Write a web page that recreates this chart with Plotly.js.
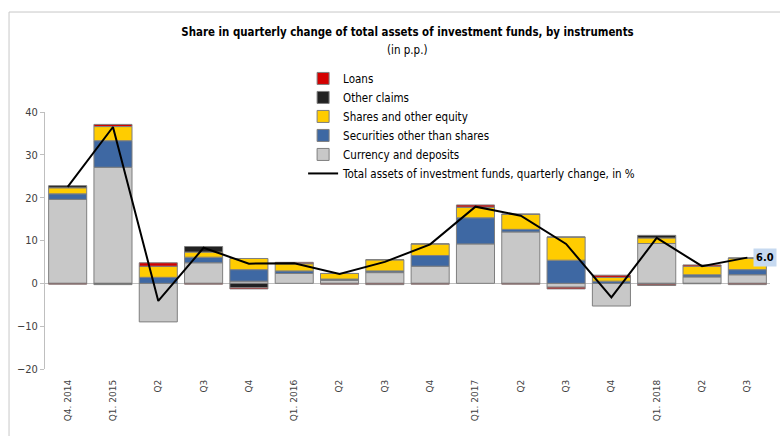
<!DOCTYPE html>
<html>
<head>
<meta charset="utf-8">
<script src="https://cdn.plot.ly/plotly-3.0.1.min.js"></script>
<style>html,body{margin:0;padding:0;background:#fff;}#chart{width:780px;height:436px;}</style>
</head>
<body>
<div id="chart"></div>
<script>
const tickLabels = ["Q4. 2014","Q1. 2015","Q2","Q3","Q4","Q1. 2016","Q2","Q3","Q4","Q1. 2017","Q2","Q3","Q4","Q1. 2018","Q2","Q3"];
const xIndex = [0,1,2,3,4,5,6,7,8,9,10,11,12,13,14,15];
const currencyDeposits = [19.6, 27.1, -9.0, 4.8, 0.5, 2.3, 0.7, 2.5, 4.0, 9.2, 12.0, -0.9, -5.3, 9.3, 1.5, 2.0];
const securities       = [1.3, 6.2, 1.4, 1.3, 2.7, 0.6, 0.3, 0.4, 2.5, 6.1, 0.6, 5.4, 0.5, -0.2, 0.5, 1.2];
const sharesEquity     = [1.4, 3.3, 2.6, 1.2, 2.6, 1.7, 1.3, 2.6, 2.7, 2.5, 3.5, 5.4, 0.9, 1.3, 2.0, 2.7];
const otherClaims      = [0.5, -0.3, 0.0, 1.3, -1.0, 0.0, 0.0, 0.0, 0.0, 0.0, 0.1, 0.0, 0.0, 0.6, -0.1, 0.0];
const loans            = [-0.2, 0.5, 0.8, -0.2, -0.3, 0.3, -0.2, -0.3, -0.2, 0.5, -0.2, -0.4, 0.5, -0.3, 0.3, -0.3];
const totalAssets      = [22.5, 36.5, -4.1, 8.3, 4.6, 4.7, 2.2, 5.0, 9.1, 17.9, 15.8, 9.2, -3.3, 10.6, 4.0, 6.0];
const lastLabel = "6.0";

const FONT = 'DejaVu Sans Condensed, DejaVu Sans, sans-serif';
const border = {color: '#7f7f7f', width: 1};
function barTrace(name, y, color, rank) {
  return {type: 'bar', name: name, x: xIndex, y: y, legendrank: rank,
    marker: {color: color, line: border}, hoverinfo: 'y+name'};
}
const traces = [
  barTrace('Currency and deposits', currencyDeposits, '#c8c8c8', 5),
  barTrace('Securities other than shares', securities, '#3e68a3', 4),
  barTrace('Shares and other equity', sharesEquity, '#ffcc00', 3),
  barTrace('Other claims', otherClaims, '#222222', 2),
  barTrace('Loans', loans, '#d40000', 1),
  {type: 'scatter', mode: 'lines', name: 'Total assets of investment funds, quarterly change, in %',
   x: xIndex, y: totalAssets, legendrank: 6, line: {color: '#000000', width: 2}}
];

const layout = {
  width: 780, height: 436,
  margin: {l: 45, r: 10, t: 112, b: 67},
  paper_bgcolor: '#ffffff', plot_bgcolor: '#ffffff',
  barmode: 'relative', bargap: 0.16,
  font: {family: FONT, color: '#000'},
  title: {
    text: '<b>Share in quarterly change of total assets of investment funds, by instruments</b>',
    font: {family: FONT, size: 11.4, color: '#000'},
    x: 0.5, xref: 'paper', xanchor: 'center', y: 1 - 32/436, yref: 'container', yanchor: 'middle'
  },
  showlegend: true,
  legend: {
    x: 0.356, xanchor: 'left', y: 1.187, yanchor: 'top',
    traceorder: 'normal', bgcolor: 'rgba(0,0,0,0)',
    font: {family: FONT, size: 11.5, color: '#000'},
    tracegroupgap: 0
  },
  xaxis: {
    range: [-0.5, 15.5], tickmode: 'array', tickvals: xIndex, ticktext: tickLabels,
    tickangle: -90, showgrid: false, showline: false, zeroline: false, ticks: '',
    ticklabelstandoff: 8,
    tickfont: {family: 'DejaVu Sans, sans-serif', size: 9, color: '#404040'}, fixedrange: true
  },
  yaxis: {
    range: [-20, 40], tickmode: 'array', tickvals: [-20, -10, 0, 10, 20, 30, 40],
    showgrid: false, showline: true, linecolor: '#bfbfbf', linewidth: 1,
    ticks: 'outside', ticklen: 4, tickcolor: '#bfbfbf',
    zeroline: true, zerolinecolor: '#bfbfbf', zerolinewidth: 1,
    tickfont: {family: FONT, size: 11, color: '#404040'}, fixedrange: true
  },
  annotations: [{
    xref: 'paper', yref: 'paper', x: 0.5, y: (369 - 50) / 257, text: '(in p.p.)',
    showarrow: false, xanchor: 'center', yanchor: 'middle',
    font: {family: FONT, size: 11.5, color: '#000'}
  }, {
    x: xIndex[15], y: totalAssets[15], xref: 'x', yref: 'y', text: '<b>' + lastLabel + '</b>',
    showarrow: false, xanchor: 'left', xshift: 6, bgcolor: '#c6d9f0',
    font: {family: FONT, size: 11, color: '#000'}, borderpad: 2
  }],
  shapes: [{
    type: 'rect', xref: 'paper', yref: 'paper', x0: -0.0496, x1: 1.1, y0: -0.6, y1: 1.389,
    line: {color: '#c8c8c8', width: 1}, fillcolor: 'rgba(0,0,0,0)', layer: 'below'
  }]
};

Plotly.newPlot('chart', traces, layout, {displayModeBar: false, staticPlot: true});
</script>
</body>
</html>
